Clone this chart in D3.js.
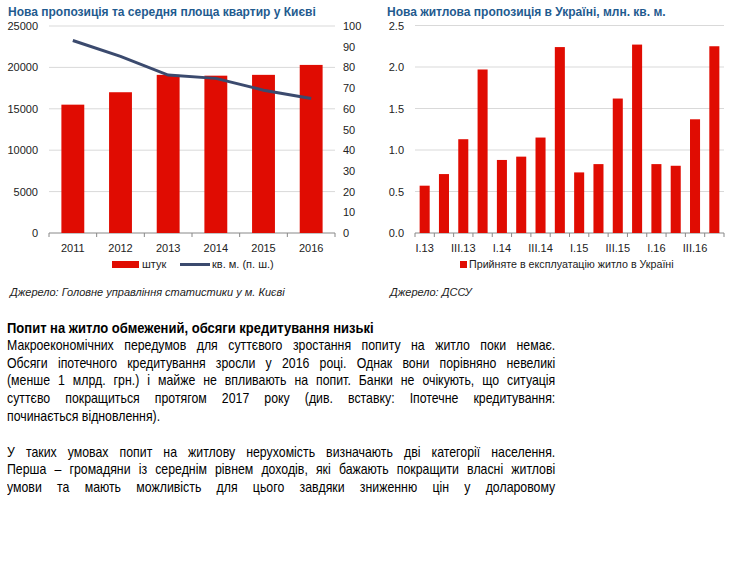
<!DOCTYPE html>
<html>
<head>
<meta charset="utf-8">
<script src="https://cdn.jsdelivr.net/npm/d3@7"></script>
<style>
    body { margin: 0; background: #fff; }
    #page { position: relative; width: 743px; height: 564px; overflow: hidden; }
    svg { position: absolute; left: 0; top: 0; }
    .chart-text { font-family: "Liberation Sans", Arial, sans-serif; }
    /* narrow body text: Arial-like face squeezed horizontally */
    #article {
        position: absolute; left: 7px; top: 319px; width: 645px;
        transform: scaleX(0.85); transform-origin: 0 0;
        font-family: "Liberation Sans", Arial, sans-serif;
        font-size: 14.5px; color: #000;
    }
    #article div { height: 17.8px; line-height: 17.8px; text-align: justify; text-align-last: justify; }
    #article div.last { text-align-last: left; }
    #article div.head { font-weight: bold; text-align-last: left; font-size: 15.3px; }
</style>
</head>
<body>
<div id="page"></div>
<script>
// Kyiv: new supply (units) and average flat area (sq. m, right axis)
const years = ["2011", "2012", "2013", "2014", "2015", "2016"];
const kyivUnits = [15500, 17000, 19100, 19000, 19100, 20300];
const kyivArea = [93, 85.3, 76.3, 74.7, 69, 65];
const unitTicks = [0, 5000, 10000, 15000, 20000, 25000];
const areaTicks = [0, 10, 20, 30, 40, 50, 60, 70, 80, 90, 100];

// Ukraine: new housing put into operation, mln sq. m, by quarter
const quarters = ["I.13", "II.13", "III.13", "IV.13", "I.14", "II.14", "III.14", "IV.14",
    "I.15", "II.15", "III.15", "IV.15", "I.16", "II.16", "III.16", "IV.16"];
const ukraineSupply = [0.57, 0.71, 1.13, 1.97, 0.88, 0.92, 1.15, 2.24,
    0.73, 0.83, 1.62, 2.27, 0.83, 0.81, 1.37, 2.25];
const supplyTicks = [0, 0.5, 1.0, 1.5, 2.0, 2.5];

const articleLines = [
    ["head", "Попит на житло обмежений, обсяги кредитування низькі"],
    ["", "Макроекономічних передумов для суттєвого зростання попиту на житло поки немає."],
    ["", "Обсяги іпотечного кредитування зросли у 2016 році. Однак вони порівняно невеликі"],
    ["", "(менше 1 млрд. грн.) і майже не впливають на попит. Банки не очікують, що ситуація"],
    ["", "суттєво покращиться протягом 2017 року (див. вставку: Іпотечне кредитування:"],
    ["last", "починається відновлення)."],
    ["last", "\u00a0"],
    ["", "У таких умовах попит на житлову нерухомість визначають дві категорії населення."],
    ["", "Перша – громадяни із середнім рівнем доходів, які бажають покращити власні житлові"],
    ["", "умови та мають можливість для цього завдяки зниженню цін у доларовому"]
];

const RED = "#e00c02", LINE = "#3b4a6e", GRID = "#d9d9d9", AXIS = "#888",
    TITLE = "#1f5b8f", TEXT = "#222";

const svg = d3.select("#page").append("svg")
    .attr("width", 743).attr("height", 564)
    .attr("class", "chart-text");

function gridAndAxis(g, x, y, ticks, left, right, bottom) {
    g.selectAll(".grid").data(ticks.filter(d => d !== 0)).join("line")
        .attr("class", "grid")
        .attr("x1", left).attr("x2", right)
        .attr("y1", d => y(d)).attr("y2", d => y(d))
        .attr("stroke", GRID).attr("stroke-width", 1);

    // x axis line with ticks at band edges
    g.append("line")
        .attr("x1", left).attr("x2", right)
        .attr("y1", bottom).attr("y2", bottom)
        .attr("stroke", AXIS).attr("stroke-width", 1);
    const edges = x.domain().map(d => x(d)).concat(x.range()[1]);
    g.selectAll(".xtick").data(edges).join("line")
        .attr("class", "xtick")
        .attr("x1", d => d).attr("x2", d => d)
        .attr("y1", bottom).attr("y2", bottom + 4)
        .attr("stroke", AXIS).attr("stroke-width", 1);
}

function styleAxis(sel) {
    sel.select(".domain").remove();
    sel.selectAll("text").attr("fill", TEXT).style("font-size", "11px");
}

// ---------- left chart ----------
{
    const left = 49, right = 335, top = 26, bottom = 233;
    const g = svg.append("g");

    const x = d3.scaleBand().domain(years).range([left, right]);
    const xBars = d3.scaleBand().domain(years).range([left, right])
        .paddingInner(0.52).paddingOuter(0.26);
    const y = d3.scaleLinear().domain([0, 25000]).range([bottom, top]);
    const y2 = d3.scaleLinear().domain([0, 100]).range([bottom, top]);

    gridAndAxis(g, x, y, unitTicks, left, right, bottom);

    g.selectAll(".bar").data(kyivUnits).join("rect")
        .attr("class", "bar")
        .attr("x", (d, i) => xBars(years[i]))
        .attr("width", xBars.bandwidth())
        .attr("y", d => y(d))
        .attr("height", d => bottom - y(d))
        .attr("fill", RED);

    const line = d3.line()
        .x((d, i) => x(years[i]) + x.bandwidth() / 2)
        .y(d => y2(d));
    g.append("path").datum(kyivArea)
        .attr("d", line)
        .attr("fill", "none").attr("stroke", LINE).attr("stroke-width", 3);

    g.append("g").attr("transform", `translate(${left},0)`)
        .call(d3.axisLeft(y).tickValues(unitTicks).tickSize(0).tickPadding(11).tickFormat(d3.format("d")))
        .call(styleAxis);
    g.append("g").attr("transform", `translate(${right},0)`)
        .call(d3.axisRight(y2).tickValues(areaTicks).tickSize(0).tickPadding(8))
        .call(styleAxis);
    g.append("g").attr("transform", `translate(0,${bottom})`)
        .call(d3.axisBottom(x).tickSize(0).tickPadding(11))
        .call(styleAxis);

    g.append("text").attr("x", 8).attr("y", 16)
        .attr("fill", TITLE).style("font-size", "12px").style("font-weight", "bold")
        .text("Нова пропозиція та середня площа квартир у Києві");

    // legend
    g.append("rect").attr("x", 112).attr("y", 261).attr("width", 27).attr("height", 7).attr("fill", RED);
    g.append("text").attr("x", 142).attr("y", 268).attr("fill", TEXT).style("font-size", "11px").text("штук");
    g.append("line").attr("x1", 180).attr("x2", 210).attr("y1", 264.5).attr("y2", 264.5)
        .attr("stroke", LINE).attr("stroke-width", 3);
    g.append("text").attr("x", 212).attr("y", 268).attr("fill", TEXT).style("font-size", "11px").text("кв. м. (п. ш.)");

    g.append("text").attr("x", 10).attr("y", 296)
        .attr("fill", TEXT).style("font-size", "11px").style("font-style", "italic")
        .text("Джерело: Головне управління статистики у м. Києві");
}

// ---------- right chart ----------
{
    const left = 415, right = 724, top = 25.5, bottom = 233;
    const g = svg.append("g");

    const x = d3.scaleBand().domain(quarters).range([left, right]);
    const xBars = d3.scaleBand().domain(quarters).range([left, right])
        .paddingInner(0.48).paddingOuter(0.24);
    const y = d3.scaleLinear().domain([0, 2.5]).range([bottom, top]);

    gridAndAxis(g, x, y, supplyTicks, left, right, bottom);

    g.selectAll(".bar").data(ukraineSupply).join("rect")
        .attr("class", "bar")
        .attr("x", (d, i) => xBars(quarters[i]))
        .attr("width", xBars.bandwidth())
        .attr("y", d => y(d))
        .attr("height", d => bottom - y(d))
        .attr("fill", RED);

    g.append("g").attr("transform", `translate(${left},0)`)
        .call(d3.axisLeft(y).tickValues(supplyTicks).tickSize(0).tickPadding(11).tickFormat(d3.format(".1f")))
        .call(styleAxis);
    g.append("g").attr("transform", `translate(0,${bottom})`)
        .call(d3.axisBottom(x).tickValues(quarters.filter((d, i) => i % 2 === 0)).tickSize(0).tickPadding(11))
        .call(styleAxis);

    g.append("text").attr("x", 387).attr("y", 16)
        .attr("fill", TITLE).style("font-size", "12px").style("font-weight", "bold")
        .text("Нова житлова пропозиція в Україні, млн. кв. м.");

    g.append("rect").attr("x", 460).attr("y", 261).attr("width", 7).attr("height", 7).attr("fill", RED);
    g.append("text").attr("x", 469).attr("y", 268).attr("fill", TEXT).style("font-size", "10.7px")
        .text("Прийняте в експлуатацію житло в Україні");

    g.append("text").attr("x", 390).attr("y", 296)
        .attr("fill", TEXT).style("font-size", "11px").style("font-style", "italic")
        .text("Джерело: ДССУ");
}

// ---------- article text ----------
d3.select("#page").append("div").attr("id", "article")
    .selectAll("div").data(articleLines).join("div")
    .attr("class", d => d[0])
    .text(d => d[1]);
</script>
</body>
</html>
